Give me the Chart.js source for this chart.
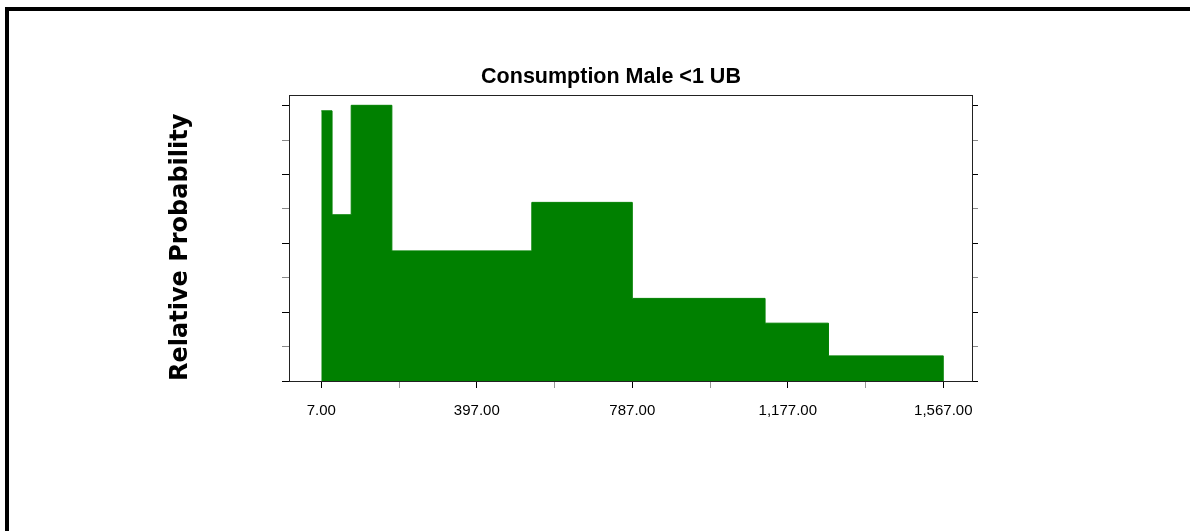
<!DOCTYPE html>
<html>
<head>
<meta charset="utf-8">
<title>Consumption Male &lt;1 UB</title>
<script src="https://cdn.jsdelivr.net/npm/chart.js@4.4.0/dist/chart.umd.min.js"></script>
<style>
    body {
        margin: 0;
        background: #fff;
    }
    #wrap {
        position: relative;
        width: 1190px;
        height: 531px;
        overflow: hidden;
    }
    #frame {
        position: absolute;
        left: 5px;
        top: 7px;
        right: 0;
        bottom: 0;
        border-top: 4px solid #000;
        border-left: 4px solid #000;
        pointer-events: none;
    }
</style>
</head>
<body>
<div id="wrap">
    <canvas id="histChart" width="1190" height="531"></canvas>
    <div id="frame"></div>
</div>
<script>
// bin edges (x) and bar heights (relative probability, arbitrary units)
const binEdges = [7, 34, 82, 184, 535, 787, 1120, 1279, 1567];
const binHeights = [7.85, 4.83, 8.01, 3.78, 5.19, 2.40, 1.68, 0.73];

const xMajorTicks = [7, 397, 787, 1177, 1567];
const xMinorTicks = [202, 592, 982, 1372];
const yTicks = [0, 1, 2, 3, 4, 5, 6, 7, 8];

const chartTitle = 'Consumption Male <1 UB';
const yTitle = 'Relative Probability';

function buildSteps() {
    // one point per edge, the last one drops back to zero
    return binEdges.map((edge, i) => ({
        x: edge,
        y: i < binHeights.length ? binHeights[i] : 0
    }));
}

function formatTick(value) {
    return value.toLocaleString('en-US', { minimumFractionDigits: 2, maximumFractionDigits: 2 });
}

// outline round the plot area
const plotFrame = {
    id: 'plotFrame',
    afterDraw(chart) {
        const { ctx, chartArea } = chart;
        ctx.save();
        ctx.strokeStyle = '#222';
        ctx.lineWidth = 1;
        ctx.strokeRect(Math.round(chartArea.left) + 0.5, Math.round(chartArea.top) + 0.5,
            Math.round(chartArea.right - chartArea.left), Math.round(chartArea.bottom - chartArea.top));
        ctx.restore();
    }
};

function drawChart() {
    const ctx = document.getElementById('histChart').getContext('2d');

    new Chart(ctx, {
        type: 'line',
        data: {
            datasets: [{
                label: 'Relative Probability',
                data: buildSteps(),
                stepped: 'before',
                fill: 'origin',
                borderColor: '#008000',
                backgroundColor: '#008000',
                borderWidth: 1,
                pointRadius: 0,
                yAxisID: 'y'
            }]
        },
        options: {
            responsive: false,
            animation: false,
            devicePixelRatio: 1,
            layout: { padding: { left: 32, right: 0, top: 0, bottom: 0 } },
            plugins: {
                legend: { display: false },
                tooltip: { enabled: false },
                title: {
                    display: true,
                    text: chartTitle,
                    color: '#000',
                    font: { family: 'Liberation Sans, Arial', size: 21.5, weight: 'bold' },
                    padding: { top: 64, bottom: 5.2 }
                }
            },
            scales: {
                x: {
                    type: 'linear',
                    min: -74,
                    max: 1639,
                    afterBuildTicks: (scale) => {
                        scale.ticks = xMajorTicks.concat(xMinorTicks)
                            .sort((a, b) => a - b)
                            .map(v => ({ value: v }));
                    },
                    afterFit: (scale) => { scale.height = 150; },
                    grid: {
                        drawOnChartArea: false,
                        tickLength: 7,
                        tickColor: (c) => xMajorTicks.includes(c.tick.value) ? '#000' : '#999'
                    },
                    border: { color: '#000' },
                    ticks: {
                        autoSkip: false,
                        maxRotation: 0,
                        padding: 14,
                        color: '#000',
                        font: { family: 'Liberation Sans, Arial', size: 15 },
                        callback: (value) => xMajorTicks.includes(value) ? formatTick(value) : ''
                    }
                },
                y: {
                    position: 'left',
                    min: 0,
                    max: 8.31,
                    afterBuildTicks: (scale) => {
                        scale.ticks = yTicks.map(v => ({ value: v }));
                    },
                    afterFit: (scale) => { scale.width = 257; },
                    grid: {
                        drawOnChartArea: false,
                        tickLength: 7,
                        tickColor: (c) => c.tick.value % 2 ? '#888' : '#000'
                    },
                    border: { color: '#000' },
                    ticks: { display: false },
                    title: {
                        display: true,
                        text: yTitle,
                        align: 'start',
                        color: '#000',
                        font: { family: 'DejaVu Sans', size: 24, weight: 'bold' },
                        padding: { top: 134, bottom: 0 }
                    }
                },
                y2: {
                    position: 'right',
                    min: 0,
                    max: 8.31,
                    afterBuildTicks: (scale) => {
                        scale.ticks = yTicks.map(v => ({ value: v }));
                    },
                    afterFit: (scale) => { scale.width = 218; },
                    grid: {
                        drawOnChartArea: false,
                        tickLength: 6,
                        tickColor: (c) => c.tick.value % 2 ? '#888' : '#000'
                    },
                    border: { color: '#555' },
                    ticks: { display: false }
                }
            }
        },
        plugins: [plotFrame]
    });
}

window.onload = function() {
    drawChart();
};
</script>
</body>
</html>
